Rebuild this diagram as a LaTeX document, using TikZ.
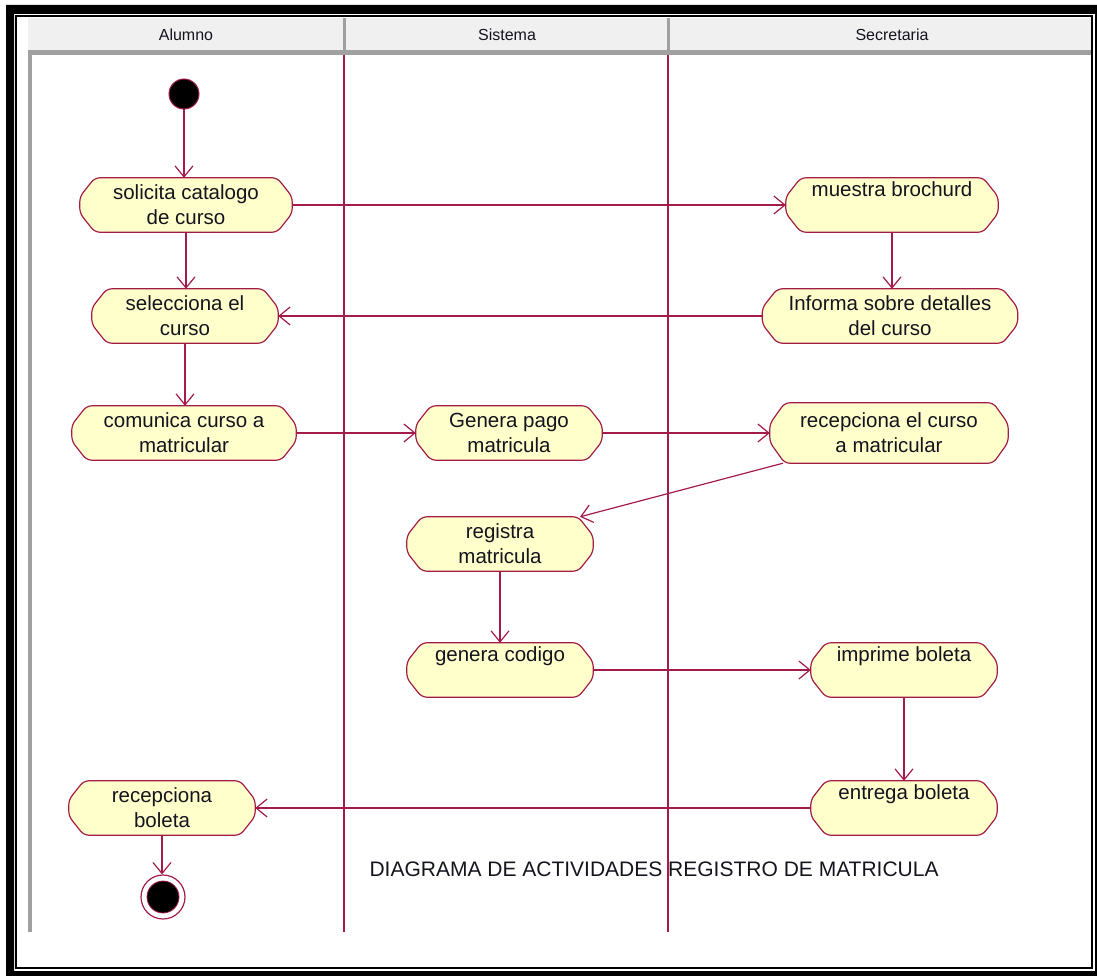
\documentclass[tikz,border=0pt]{standalone}
\usepackage{fontspec}
\setmainfont{Liberation Sans}
\usetikzlibrary{arrows.meta,backgrounds,calc}

\definecolor{umlred}{RGB}{163,28,72}
\definecolor{actfill}{RGB}{255,255,204}
\definecolor{hdrfill}{RGB}{240,240,240}
\definecolor{hdrline}{RGB}{160,160,160}
\definecolor{txtcol}{RGB}{20,20,30}

\tikzset{
  acttext/.style={shape=rectangle, inner sep=0pt, minimum height=54pt,
    align=center, text=txtcol, font=\fontsize{20.5}{25}\selectfont},
  actline/.style={draw=umlred, line width=1.2pt, fill=actfill, line join=round,
    rounded corners=5pt},
  flow/.style={draw=umlred, line width=1.2pt,
    -{Straight Barb[length=11pt,width=18pt,line width=1.2pt]}},
  laneline/.style={draw=umlred, line width=1.6pt},
  lanehead/.style={font=\fontsize{16}{18}\selectfont, text=txtcol},
}

% action node outline: name, chamfer height
\newcommand\actoutline[2]{%
  \begin{pgfonlayer}{background}
    \draw[actline]
      ([xshift=15pt]#1.north west) -- ([xshift=-15pt]#1.north east)
      -- ([yshift=-#2]#1.north east) -- ([yshift=#2]#1.south east)
      -- ([xshift=-15pt]#1.south east) -- ([xshift=15pt]#1.south west)
      -- ([yshift=#2]#1.south west) -- ([yshift=-#2]#1.north west) -- cycle;
  \end{pgfonlayer}%
}
% action node: name, centre, width, text
\newcommand\actnode[4]{%
  \node[acttext, minimum width=#3] (#1) at (#2) {#4};
  \actoutline{#1}{19pt}%
}

\begin{document}
\begin{tikzpicture}[x=1pt,y=-1pt]
\useasboundingbox (0,0) rectangle (1097,976);

\begin{pgfonlayer}{background}
  % double frame
  \fill[black,even odd rule] (6,5) rectangle (1100,980) (14,14) rectangle (1095,971);
  \draw[black,line width=2pt] (16,16) rectangle (1092,968);
  % lane header
  \fill[hdrfill] (28,18) rectangle (1091,50);
  \fill[hdrline] (28,50) rectangle (1091,55);
  \fill[hdrline] (342.5,18) rectangle (345.5,50);
  \fill[hdrline] (666.5,18) rectangle (669.5,50);
  \fill[hdrline] (28,50) rectangle (31.5,932);
  % lane separators
  \draw[laneline] (344,55) -- (344,932);
  \draw[laneline] (668,55) -- (668,932);
\end{pgfonlayer}

\node[lanehead] (hAlumno) at (186,35) {Alumno};
\node[lanehead] (hSistema) at (507,35) {Sistema};
\node[lanehead] (hSecretaria) at (892,35) {Secretaria};

% start and end states
\node[circle, fill=black, draw=umlred, line width=1pt, minimum size=30pt, inner sep=0pt] (init) at (184,94) {};
\node[circle, draw=umlred, line width=1.2pt, fill=white, minimum size=44pt, inner sep=0pt] (final) at (163,897) {};
\node[circle, fill=black, draw=umlred, line width=0.8pt, minimum size=32pt, inner sep=0pt] (finalin) at (final.center) {};

% actions
\actnode{soli}{186,205}{212pt}{solicita catalogo\\de curso}
\actnode{mues}{892,205}{212pt}{muestra brochurd\\\strut}
\actnode{sele}{185,316}{186pt}{selecciona el\\curso}
\actnode{info}{890,316}{255pt}{Informa sobre detalles\\del curso}
\actnode{comu}{184,433}{224pt}{comunica curso a\\matricular}
\actnode{gene}{509,433}{186pt}{Genera pago\\matricula}
\node[acttext, minimum width=238pt, minimum height=60pt] (rece) at (889,433) {recepciona el curso\\a matricular};
\actoutline{rece}{21pt}
\actnode{regi}{500,544}{186pt}{registra\\matricula}
\actnode{codi}{500,670}{186pt}{genera codigo\\\strut}
\actnode{impr}{904,670}{186pt}{imprime boleta\\\strut}
\actnode{entr}{904,808}{186pt}{entrega boleta\\\strut}
\actnode{rbol}{162,808}{186pt}{recepciona\\boleta}

% control flow
\draw[flow] (init) -- (init |- soli.north);
\draw[flow] (soli.east) -- (mues.west);
\draw[flow] (soli.south) -- (soli.south |- sele.north);
\draw[flow] (mues.south) -- (mues.south |- info.north);
\draw[flow] (info.west) -- (sele.east);
\draw[flow] (sele.south) -- (sele.south |- comu.north);
\draw[flow] (comu.east) -- (gene.west);
\draw[flow] (gene.east) -- (rece.west);
\draw[flow] ([xshift=-106pt]rece.south) -- ([xshift=80pt]regi.north);
\draw[flow] (regi.south) -- (regi.south |- codi.north);
\draw[flow] (codi.east) -- (impr.west);
\draw[flow] (impr.south) -- (impr.south |- entr.north);
\draw[flow] (entr.west) -- (rbol.east);
\draw[flow] (rbol.south) -- (rbol.south |- final.north);

\node[anchor=base west, text=txtcol, font=\fontsize{21}{24}\selectfont] (caption) at (366,876)
  {DIAGRAMA DE ACTIVIDADES REGISTRO DE MATRICULA};
\end{tikzpicture}
\end{document}
